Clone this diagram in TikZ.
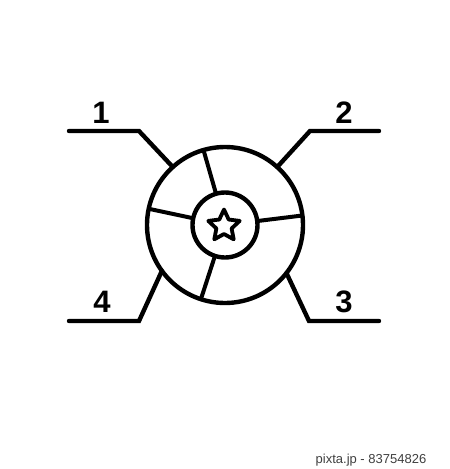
\documentclass[tikz,border=0pt]{standalone}
\usepackage{fontspec}
\setmainfont{Liberation Sans}
\usetikzlibrary{calc}
\begin{document}
\begin{tikzpicture}[x=1pt,y=-1pt,
  ring/.style={circle,draw,line width=4.4pt,inner sep=0pt,outer sep=0pt},
  lead/.style={line width=4.4pt,line cap=round,line join=miter},
  spoke/.style={line width=4pt,line cap=butt},
  num/.style={font=\bfseries\fontsize{31}{31}\selectfont,inner sep=0pt},
  wmtext/.style={font=\fontsize{13}{13}\selectfont,text=black!75,inner sep=0pt}]
\useasboundingbox (0,0) rectangle (450,469);
\fill[white] (0,0) rectangle (450,469);
\node[ring,minimum size=156pt] (outer) at (225,225) {};
\node[ring,minimum size=65pt] (inner) at (225,225) {};
% spokes
\foreach \a in {106,168,7,252} \draw[spoke] (inner.\a) -- (outer.\a);
% star
\node[inner sep=0pt,minimum size=0pt] (star) at (224,226) {};
\draw[line width=3.8pt,line join=round]
  ($(star)+(90:-16.5)$) \foreach \k in {1,...,9} {
    -- ($(star)+({90+36*\k}:{ifthenelse(mod(\k,2)==1,-8,-16.5)})$) } -- cycle;
% leader corners and ends
\coordinate (c1) at (139,131); \coordinate (e1) at (69,131);
\coordinate (c2) at (310,131); \coordinate (e2) at (379,131);
\coordinate (c3) at (309,321); \coordinate (e3) at (379,321);
\coordinate (c4) at (139,321); \coordinate (e4) at (69,321);
\draw[lead] (e1) -- (c1) -- (outer.132);
\draw[lead] (e2) -- (c2) -- (outer.48);
\draw[lead] (e3) -- (c3) -- (outer.-38);
\draw[lead] (e4) -- (c4) -- (outer.216);
\node[num] (n1) at (101,113) {1};
\node[num] (n2) at (344,113) {2};
\node[num] (n3) at (344,302) {3};
\node[num] (n4) at (102,302) {4};
\node[wmtext] (wm) at (371,460) {pixta.jp - 83754826};
\end{tikzpicture}
\end{document}
